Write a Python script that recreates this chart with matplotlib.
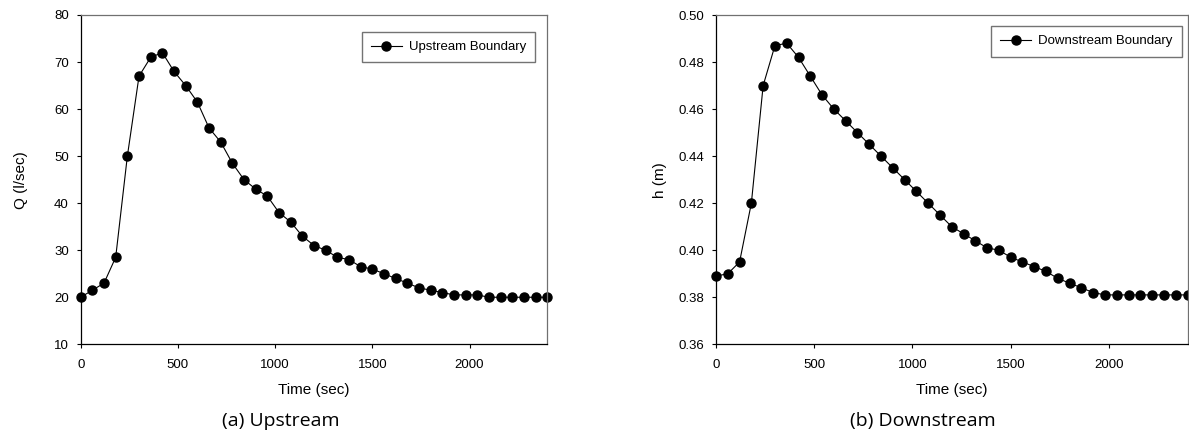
import matplotlib
matplotlib.use("Agg")
import matplotlib.pyplot as plt

# ---- data ----
time_s = list(range(0, 2401, 60))
q_upstream = [20, 21.5, 23, 28.5, 50, 67, 71, 72, 68, 65, 61.5, 56, 53, 48.5, 45, 43,
              41.5, 38, 36, 33, 31, 30, 28.5, 28, 26.5, 26, 25, 24, 23, 22, 21.5, 21,
              20.5, 20.5, 20.5, 20, 20, 20, 20, 20, 20]
h_downstream = [0.389, 0.390, 0.395, 0.420, 0.470, 0.487, 0.488, 0.482, 0.474, 0.466,
                0.460, 0.455, 0.450, 0.445, 0.440, 0.435, 0.430, 0.425, 0.420, 0.415,
                0.410, 0.407, 0.404, 0.401, 0.400, 0.397, 0.395, 0.393, 0.391, 0.388,
                0.386, 0.384, 0.382, 0.381, 0.381, 0.381, 0.381, 0.381, 0.381, 0.381,
                0.381]
x_ticks = [0, 500, 1000, 1500, 2000]
q_ticks = [10, 20, 30, 40, 50, 60, 70, 80]
h_ticks = [0.36, 0.38, 0.40, 0.42, 0.44, 0.46, 0.48, 0.50]

W, H = 1189, 434
plt.rcParams['font.family'] = ['Liberation Sans', 'DejaVu Sans']
fig = plt.figure(figsize=(W / 100, H / 100), dpi=100)

def px_axes(x0, x1, y0, y1):
    return fig.add_axes([x0 / W, 1 - y1 / H, (x1 - x0) / W, (y1 - y0) / H])

ax1 = px_axes(80.7, 547.3, 15, 344.3)
ax2 = px_axes(716, 1187.5, 15, 344.3)

def style(ax, yticks, ylabel, ylim, fmt, ylabelpad):
    ax.set_xlim(0, 2400)
    ax.set_ylim(*ylim)
    ax.set_xticks(x_ticks)
    ax.set_yticks(yticks)
    ax.set_yticklabels([fmt.format(v) for v in yticks])
    ax.tick_params(axis='both', direction='out', length=3, width=0.8, labelsize=9.5,
                   colors='black', top=False, right=False)
    ax.tick_params(axis='y', pad=5.5)
    ax.tick_params(axis='x', pad=7.5)
    for s in ['left', 'bottom']:
        ax.spines[s].set_color('black')
        ax.spines[s].set_linewidth(0.9)
    for s in ['top', 'right']:
        ax.spines[s].set_color('#707070')
        ax.spines[s].set_linewidth(0.9)
    ax.set_xlabel('Time (sec)', fontsize=11, labelpad=8.5)
    ax.set_ylabel(ylabel, fontsize=11, labelpad=ylabelpad)

ln1, = ax1.plot(time_s, q_upstream, color='black', lw=0.8, marker='o', ms=6.5,
                mfc='black', mec='black', label='Upstream Boundary', clip_on=False)
ln2, = ax2.plot(time_s, h_downstream, color='black', lw=0.8, marker='o', ms=6.5,
                mfc='black', mec='black', label='Downstream Boundary', clip_on=False)

style(ax1, q_ticks, 'Q (l/sec)', (10, 80), '{:.0f}', 19)
style(ax2, h_ticks, 'h (m)', (0.36, 0.50), '{:.2f}', 8)

def legend(ax, right, top):
    leg = ax.legend(loc='upper right', bbox_to_anchor=(right / W, 1 - top / H),
                    bbox_transform=fig.transFigure, fontsize=9.5, frameon=True,
                    fancybox=False, shadow=False, handlelength=2.3,
                    handletextpad=0.55, borderpad=0.7, borderaxespad=0)
    fr = leg.get_frame()
    fr.set_edgecolor('#505050')
    fr.set_linewidth(1.0)
    return leg

legend(ax1, 535.3, 31.7)
legend(ax2, 1181.7, 26)

fig.text(281 / W, 1 - 421 / H, '(a) Upstream', fontsize=14, family='Open Sans',
         ha='center', va='center')
fig.text(922.5 / W, 1 - 421 / H, '(b) Downstream', fontsize=14, family='Open Sans',
         ha='center', va='center')

fig.savefig('out.png', dpi=100)
